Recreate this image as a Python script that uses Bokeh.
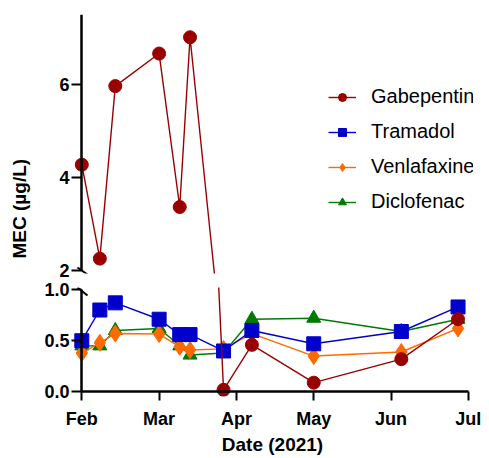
from bokeh.plotting import figure
from bokeh.layouts import column
from bokeh.models import (Range1d, FixedTicker, Legend, LegendItem, LinearAxis,
                          Arrow, ColumnDataSource, NumeralTickFormatter, Title)
from bokeh.embed import file_html
from bokeh.resources import INLINE

# ---- data ----
# sampling days, counted from 1 Feb 2021 (axis ticks every 30 days: Feb..Jul)
days = [0, 7, 13, 30, 38, 42, 55, 66, 90, 124, 146]
gabapentin = [4.27, 2.25, 5.96, 6.66, 3.36, 7.01, 0.02, 0.46, 0.09, 0.32, 0.71]
tramadol = [0.50, 0.80, 0.87, 0.71, 0.56, 0.56, 0.40, 0.60, 0.47, 0.59, 0.83]
venlafaxine = [0.38, 0.48, 0.57, 0.565, 0.44, 0.41, 0.42, 0.57, 0.35, 0.39, 0.62]
diclofenac = [0.45, 0.45, 0.60, 0.62, 0.45, 0.36, 0.38, 0.71, 0.72, 0.59, 0.71]

month_ticks = [0, 30, 60, 90, 120, 150]
month_labels = ["Feb", "Mar", "Apr", "May", "Jun", "Jul"]
upper_ticks = [2, 4, 6]
lower_ticks = [0, 0.5, 1.0]

series = [
    ("Gabepentin", gabapentin, "#990000", "circle", 13),
    ("Tramadol", tramadol, "#0000CC", "square", 14),
    ("Venlafaxine", venlafaxine, "#FF6A00", "diamond", 17),
    ("Diclofenac", diclofenac, "#007A00", "triangle", 14),
]
draw_order = [3, 2, 1, 0]

FONT = "Liberation Sans"
XR = (-4, 152)


def base_fig(height, y_range, top, bottom):
    p = figure(width=489, height=height, x_range=Range1d(*XR), y_range=y_range,
               output_backend="svg", toolbar_location=None,
               x_axis_location=None, y_axis_location=None,
               min_border_left=71, min_border_right=16,
               min_border_top=top, min_border_bottom=bottom)
    p.outline_line_color = None
    p.xgrid.visible = False
    p.ygrid.visible = False
    return p


def label_axis(ticks, fmt=None, overrides=None, standoff=2, tick_in=10, tick_out=0):
    ax = LinearAxis(ticker=FixedTicker(ticks=ticks))
    ax.axis_line_color = None
    ax.major_tick_line_width = 2
    ax.major_tick_line_color = "black"
    ax.major_tick_in = tick_in
    ax.major_tick_out = tick_out
    ax.minor_tick_line_color = None
    ax.major_label_text_font = FONT
    ax.major_label_text_font_style = "bold"
    ax.major_label_text_font_size = "18px"
    ax.major_label_text_color = "black"
    ax.major_label_standoff = standoff
    if fmt:
        ax.formatter = NumeralTickFormatter(format=fmt)
    if overrides:
        ax.major_label_overrides = overrides
    return ax


def line_axis(bounds):
    ax = LinearAxis(ticker=FixedTicker(ticks=[]))
    ax.fixed_location = 0
    ax.bounds = bounds
    ax.axis_line_width = 2.5
    ax.axis_line_color = "black"
    ax.major_tick_line_color = None
    ax.minor_tick_line_color = None
    ax.major_tick_out = 0
    ax.major_tick_in = 0
    ax.major_label_standoff = 0
    ax.major_label_text_font_size = "0px"
    return ax


# ---- upper panel (2 .. 7.5) ----
up = base_fig(280, Range1d(1.93, 7.5), 14, 7)
up.add_layout(label_axis(upper_ticks), "left")
up.add_layout(line_axis((2, 7.5)), "left")
# a blank second line pushes the rotated title outward, away from the tick labels
up.add_layout(Title(text="MEC (µg/L)\n ", align="left", offset=15, standoff=12,
                    text_font=FONT, text_font_style="bold",
                    text_font_size="19px", text_color="black"), "left")

# ---- lower panel (0 .. 1.0) ----
lo = base_fig(178, Range1d(-0.045, 1.02), 7, 62)
lo.add_layout(label_axis(lower_ticks, fmt="0.0"), "left")
lo.add_layout(line_axis((0, 1.0)), "left")
xb = label_axis(month_ticks, overrides={t: l for t, l in zip(month_ticks, month_labels)},
                standoff=8, tick_in=5, tick_out=4)
xb.axis_label = "Date (2021)"
xb.axis_label_text_font = FONT
xb.axis_label_text_font_style = "bold"
xb.axis_label_text_font_size = "19px"
xb.axis_label_text_color = "black"
xb.axis_label_standoff = 2
xb.bounds = (0, 150)
lo.add_layout(xb, "below")
lo.add_layout(line_axis((0, 150)), "below")

legend_items = {}
for idx in draw_order:
    name, vals, color, marker, size = series[idx]
    for p in (up, lo):
        src = ColumnDataSource(dict(x=days, y=vals))
        ln = p.line("x", "y", source=src, line_color=color, line_width=1.4)
        sc = p.scatter("x", "y", source=src, marker=marker, size=size,
                       fill_color=color, line_color=color)
        if p is up:
            legend_items[name] = [ln, sc]

legend = Legend(items=[LegendItem(label=s[0], renderers=legend_items[s[0]]) for s in series],
                location=(257, 60), padding=0, margin=0, spacing=12,
                glyph_width=28, glyph_height=20, label_height=20,
                label_standoff=15, border_line_color=None,
                background_fill_alpha=0,
                label_text_font=FONT, label_text_font_size="20px",
                label_text_color="black")
up.add_layout(legend, "center")

# axis break marks
up.add_layout(Arrow(x_start=6, y_start=6, x_end=16, y_end=-1,
                    start_units="screen", end_units="screen", end=None,
                    line_width=2, line_color="black"))
lo.add_layout(Arrow(x_start=6, y_start=109, x_end=16, y_end=101,
                    start_units="screen", end_units="screen", end=None,
                    line_width=2, line_color="black"))

layout = column(up, lo, spacing=0)
open("out.html", "w").write(file_html(layout, INLINE))
